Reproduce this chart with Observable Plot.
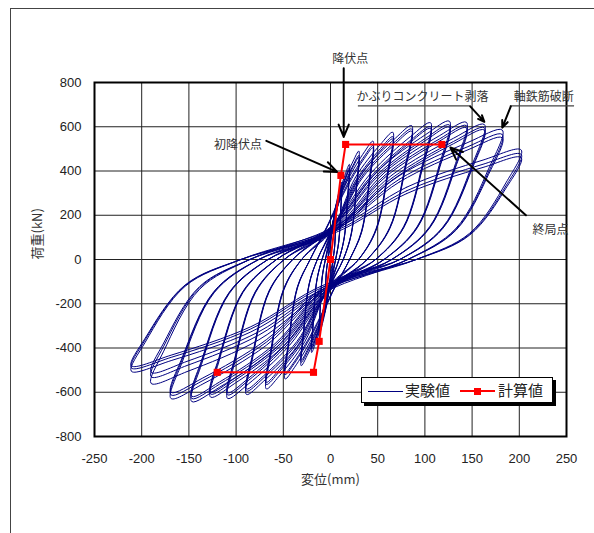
<!DOCTYPE html>
<html><head><meta charset="utf-8">
<script src="https://cdn.jsdelivr.net/npm/d3@7"></script>
<script src="https://cdn.jsdelivr.net/npm/@observablehq/plot@0.6"></script>
<style>
body{margin:0;background:#fff;overflow:hidden;width:594px;height:533px;position:relative;font-family:"Liberation Sans",Arial,sans-serif}
#frame{position:absolute;left:10px;top:8px;width:700px;height:700px;border:1.5px solid #444;box-sizing:border-box}
#chart{position:absolute;left:0;top:0}
#legend{position:absolute;left:361px;top:377px;width:190px;height:24px;border:1px solid #000;background:#fff;box-shadow:3px 3px 0 #000;font-family:"Noto Sans CJK JP",sans-serif;font-size:15px;color:#222}
#legend .l1{position:absolute;left:6px;top:13px;width:35px;border-top:1.5px solid #000080}
#legend .t1{position:absolute;left:43px;top:2px;line-height:20px}
#legend .l2{position:absolute;left:98px;top:12px;width:35px;border-top:2px solid #ff0000}
#legend .s2{position:absolute;left:112px;top:10px;width:7px;height:7px;background:#ff0000}
#legend .t2{position:absolute;left:136px;top:2px;line-height:20px}
</style></head><body>
<div id="frame"></div>
<div id="chart"></div>
<div id="legend"><div class="l1"></div><div class="t1">実験値</div><div class="l2"></div><div class="s2"></div><div class="t2">計算値</div></div>
<script>
// axis ticks
const xTicks = [-250, -200, -150, -100, -50, 0, 50, 100, 150, 200, 250];
const yTicks = [-800, -600, -400, -200, 0, 200, 400, 600, 800];

// experimental cycles (amplitude levels, three cycles each)
const ampPos   = [6, 12, 20, 30, 45, 66, 86, 106, 126, 144, 163, 182, 202];
const peakPos1 = [250, 350, 430, 490, 535, 575, 605, 618, 625, 620, 610, 585, 495];
const peakPos2 = [240, 335, 415, 470, 515, 555, 590, 600, 608, 605, 595, 565, 475];
const peakPos3 = [235, 330, 405, 462, 505, 545, 580, 592, 598, 595, 585, 550, 460];
const ampNeg   = [-6, -12, -20, -31, -48, -68, -89, -109, -127, -147, -169, -190, -211];
const peakNeg1 = [-240, -340, -420, -480, -540, -585, -610, -628, -622, -642, -628, -560, -505];
const peakNeg2 = [-230, -325, -405, -465, -520, -565, -595, -612, -608, -628, -612, -530, -490];
const peakNeg3 = [-225, -320, -398, -455, -512, -555, -585, -602, -598, -618, -600, -510, -480];
// pinch points of each level (upper and lower)
const pinchPosD = [0, 0, 1, 2, -2, 3, 5, -1, 4, 6, 2, 7, 8];
const pinchPosP = [60, 90, 120, 140, 165, 150, 170, 140, 160, 150, 135, 155, 145];
const pinchNegD = [0, 0, -1, -2, 2, -3, -5, 1, -4, -6, -2, -7, -8];
const pinchNegP = [-60, -90, -115, -130, -150, -140, -160, -130, -150, -145, -125, -150, -135];
const pinchShift = [0, -12, -22];

// calculated skeleton
const calcD = [-120, -18, -12, 0, 11, 16, 118];
const calcP = [-510, -510, -370, 0, 380, 520, 520];

// annotations
const labelText = ["降伏点", "初降伏点", "かぶりコンクリート剥落", "軸鉄筋破断", "終局点"];
const labelD = [21, -98, 27.5, 194, 233];
const labelP = [905, 516, 732, 732, 132];
const labelAnchor = ["middle", "middle", "start", "start", "middle"];
const arrowD1 = [14, -68, 148, 191, 207];
const arrowP1 = [864, 536, 692, 692, 200];
const arrowD2 = [14, 7, 163, 182, 127];
const arrowP2 = [554, 396, 622, 596, 506];
const underD1 = [29, 190];
const underD2 = [148, 258];
const underP = [694, 694];

// loop shape built through key points per cycle
const loopRows = [];
const posSets = [peakPos1, peakPos2, peakPos3];
const negSets = [peakNeg1, peakNeg2, peakNeg3];
ampPos.forEach((Ap, i) => {
  posSets.forEach((ps, k) => {
    const Pp = ps[i], An = ampNeg[i], Pn = negSets[k][i];
    const scale = i < 4 ? 0.4 : 1;
    const pu = pinchPosP[i] + pinchShift[k] * scale, pl = pinchNegP[i] - pinchShift[k] * scale;
    const du = pinchPosD[i] - k, dl = pinchNegD[i] + k;
    const pts = [
      [du, pu],
      [0.4 * Ap, pu + 0.52 * (Pp - pu)],
      [0.8 * Ap, pu + 0.87 * (Pp - pu)],
      [Ap, Pp],
      [0.92 * Ap, 0.7 * Pp],
      [0.73 * Ap, 0.24 * Pp],
      [0.45 * Ap, 0],
      [dl, pl],
      [0.4 * An, pl + 0.52 * (Pn - pl)],
      [0.8 * An, pl + 0.87 * (Pn - pl)],
      [An, Pn],
      [0.93 * An, 0.74 * Pn],
      [0.73 * An, 0.24 * Pn],
      [0.45 * An, 0]
    ];
    pts.forEach(([x, y]) => loopRows.push({cycle: i + "-" + k, x, y}));
  });
});

const calc = calcD.map((d, i) => ({x: d, y: calcP[i]}));
const labels = labelText.map((t, i) => ({t, x: labelD[i], y: labelP[i], a: labelAnchor[i]}));
const arrows = arrowD1.map((d, i) => ({x1: d, y1: arrowP1[i], x2: arrowD2[i], y2: arrowP2[i]}));
const unders = underD1.map((d, i) => ({x1: d, x2: underD2[i], y: underP[i]}));
const jp = '"Noto Sans CJK JP", sans-serif';

const chart = Plot.plot({
  width: 594, height: 533,
  marginLeft: 94, marginRight: 28, marginTop: 82, marginBottom: 97,
  style: {fontFamily: '"Liberation Sans", Arial, sans-serif', fontSize: "13px", color: "#222", background: "transparent"},
  x: {domain: [-250, 250], ticks: xTicks, tickFormat: d => String(d), tickSize: 0, tickPadding: 17, label: null},
  y: {domain: [-800, 800], ticks: yTicks, tickFormat: d => String(d), tickSize: 0, tickPadding: 13, label: null},
  marks: [
    Plot.ruleX(xTicks, {stroke: "#222", strokeWidth: 1}),
    Plot.ruleY(yTicks, {stroke: "#222", strokeWidth: 1}),
    Plot.line(loopRows, {x: "x", y: "y", z: "cycle", curve: "catmull-rom-closed", stroke: "#000080", strokeWidth: 1}),
    Plot.line(calc, {x: "x", y: "y", stroke: "#ff0000", strokeWidth: 2}),
    Plot.dot(calc, {x: "x", y: "y", symbol: "square", fill: "#ff0000", r: 4}),
    Plot.frame({stroke: "#000", strokeWidth: 2}),
    Plot.link(unders, {x1: "x1", x2: "x2", y1: "y", y2: "y", stroke: "#444", strokeWidth: 1.2}),
    Plot.arrow(arrows, {x1: "x1", y1: "y1", x2: "x2", y2: "y2", stroke: "#000", strokeWidth: 2, headLength: 10, headAngle: 45}),
    Plot.text(labels.filter(d => d.a === "middle"), {x: "x", y: "y", text: "t", textAnchor: "middle", fontSize: 12, fill: "#333", fontFamily: jp}),
    Plot.text(labels.filter(d => d.a === "start"), {x: "x", y: "y", text: "t", textAnchor: "start", fontSize: 12, fill: "#333", fontFamily: jp}),
    Plot.text(["変位(mm)"], {frameAnchor: "bottom", dy: 47, fontSize: 13, fill: "#333", fontFamily: jp}),
    Plot.text(["荷重(kN)"], {frameAnchor: "left", dx: -57, rotate: -90, fontSize: 13, fill: "#333", fontFamily: jp})
  ]
});
document.getElementById("chart").appendChild(chart);
</script>
</body></html>
